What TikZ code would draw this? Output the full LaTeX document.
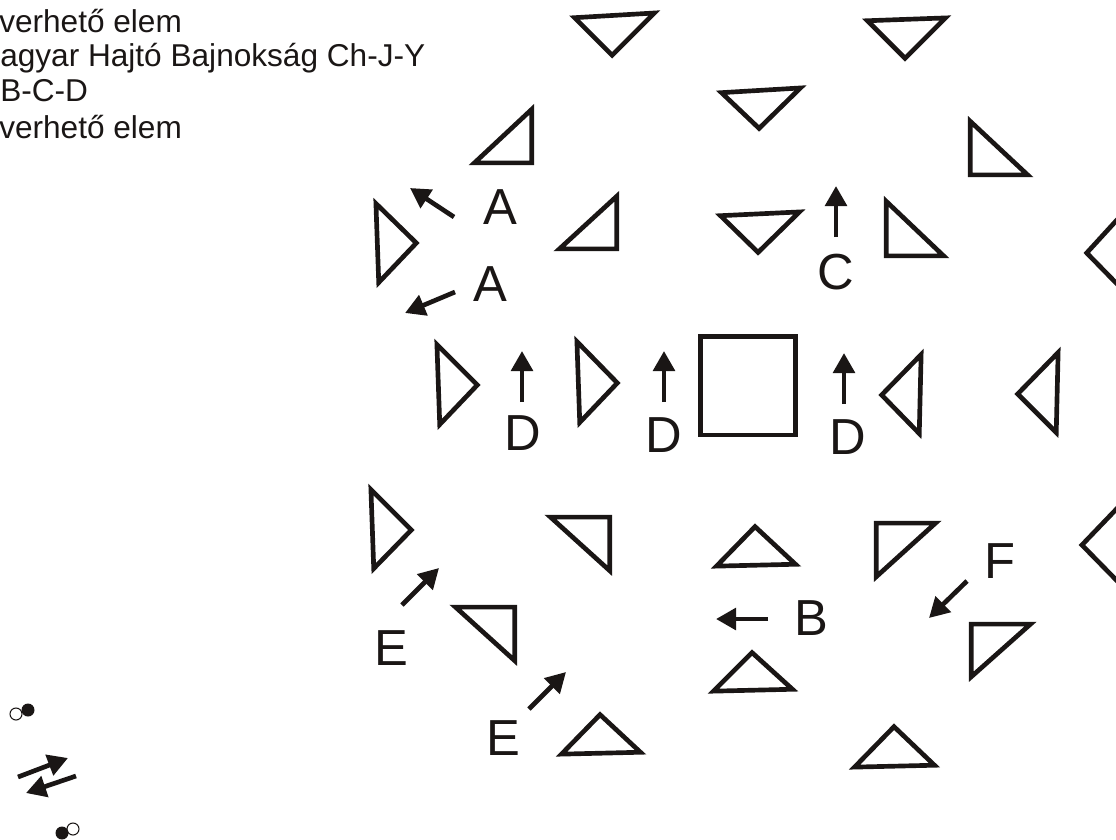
\documentclass[tikz,border=0pt]{standalone}
\usepackage{fontspec}
\setmainfont{Liberation Sans}
\usetikzlibrary{arrows.meta}

\tikzset{
  outline/.style={draw=inkblack, line width=3.5pt, line join=miter},
  pointer/.style={draw=inkblack, line width=3.5pt, -{Triangle[length=15pt,width=16pt]}},
  letter/.style={font=\fontsize{38}{38}\selectfont, text=inkblack, inner sep=0pt},
  legend/.style={font=\fontsize{23.7}{26}\selectfont, text=inkblack, inner sep=0pt, anchor=base west},
}
\definecolor{inkblack}{HTML}{1A1615}

\begin{document}
\begin{tikzpicture}[x=0.75pt,y=-0.75pt]
\useasboundingbox (0,0) rectangle (1116,839);

% legend text
\node[legend] (line1) at (-1,32) {verhető elem};
\node[legend] (line2) at (0,66) {agyar Hajtó Bajnokság Ch-J-Y};
\node[legend] (line3) at (0,101) {B-C-D};
\node[legend] (line4) at (-1,138) {verhető elem};

% triangles
\foreach \ax/\ay/\bx/\by/\cx/\cy in {
  572/17/657/12/612/57, 865/20/948/17/905/60, 719/92/803/87/759/130,
  533/107/533/164/472/164, 969/119/1030/176/969/176, 375/201/418/243/378/285,
  618/194/618/250/557/250, 718/215/802/211/758/254, 885/199/946/257/885/257,
  1128/206/1085/253/1128/297, 436/342/479/385/439/427, 576/339/619/383/579/425,
  922/352/880/395/920/436, 1059/350/1016/394/1057/435, 370/487/413/530/373/571,
  548/516/611/516/611/573, 714/567/755/525/798/565, 875/522/938/522/875/579,
  1128/495/1080/545/1128/594, 453/606/516/606/516/663, 711/692/752/651/795/690,
  970/623/1033/623/970/679, 559/755/600/713/643/753, 852/768/894/725/937/766}
{
  \pgfmathsetmacro\gx{(\ax+\bx+\cx)/3}
  \pgfmathsetmacro\gy{(\ay+\by+\cy)/3}
  \draw[outline, shift={(\gx,\gy)}, scale=.94, shift={(-\gx,-\gy)}]
    (\ax,\ay) -- (\bx,\by) -- (\cx,\cy) -- cycle;
}

% centre square
\node[outline, minimum width=71.5pt, minimum height=74pt, inner sep=0pt] (centre) at (748,385.5) {};

% letters
\node[letter] (a1) at (500,207) {A};
\node[letter] (a2) at (490,284) {A};
\node[letter] (c1) at (836,272) {C};
\node[letter] (d1) at (523,433) {D};
\node[letter] (d2) at (664,435) {D};
\node[letter] (d3) at (848,437) {D};
\node[letter] (e1) at (391,648) {E};
\node[letter] (e2) at (503,738) {E};
\node[letter] (b1) at (811,618) {B};
\node[letter] (f1) at (1000,561) {F};

% arrows
\foreach \sx/\sy/\tx/\ty in {
  454/217/410/188, 455/292/405/313, 836/237/836/186,
  522/402/522/351, 664/402/664/351, 844/404/844/353,
  402/605/439/568, 529/709/566/672, 768/619/716/619, 967/581/929/618}
  \draw[pointer] (\sx,\sy) -- (\tx,\ty);

% small symbols, bottom left
\draw[draw=inkblack, line width=0.8pt, fill=white] (16,714) circle [radius=6];
\fill[inkblack] (28,710) circle [radius=6.5];
\draw[pointer] (18,777) -- (68,758);
\draw[pointer] (76,776) -- (26,793);
\draw[draw=inkblack, line width=0.8pt, fill=white] (73,829) circle [radius=6];
\fill[inkblack] (62,833) circle [radius=6.5];
\end{tikzpicture}
\end{document}
